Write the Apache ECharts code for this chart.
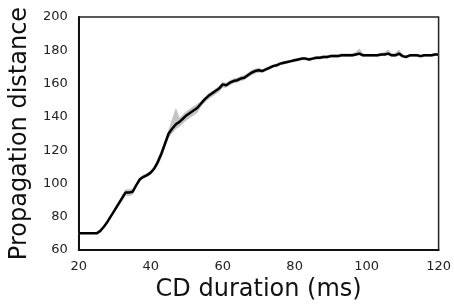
<!DOCTYPE html>
<html>
<head>
<meta charset="utf-8">
<script src="https://cdn.jsdelivr.net/npm/echarts@6/dist/echarts.min.js"></script>
<style>
  html, body { margin: 0; padding: 0; background: #fff; }
  #chart { width: 454px; height: 308px; }
</style>
</head>
<body>
<div id="chart"></div>
<script>
// CD duration (ms), one point per ms
const durations = [];
for (let d = 20; d <= 120; d++) durations.push(String(d));

// mean propagation distance
const meanDistance = [
  70, 70, 70, 70, 70, 70, 71.5, 74, 77, 80.5,          // 20-29
  84, 87.5, 91, 94.5, 94.5, 95, 99, 102.5, 104, 105,    // 30-39
  106.5, 109, 113, 118, 124, 130, 133, 135.5, 137, 139, // 40-49
  141, 142.5, 144, 145.5, 148, 150.5, 152.5, 154, 155.5, 157, // 50-59
  159.5, 159, 160.5, 161.5, 162, 163, 163.5, 165, 166.5, 167.5, // 60-69
  168, 167.5, 168.5, 169.5, 170.5, 171, 172, 172.5, 173, 173.5, // 70-79
  174, 174.5, 175, 175, 174.5, 175, 175.5, 175.5, 176, 176,     // 80-89
  176.5, 176.5, 176.5, 177, 177, 177, 177, 177.5, 178, 177,     // 90-99
  177, 177, 177, 177, 177.5, 177.5, 178, 177, 177, 178,         // 100-109
  176.5, 176, 177, 177, 177, 176.5, 177, 177, 177, 177.5,       // 110-119
  177.5                                                          // 120
];

// spread above / below the mean (grey band)
const spreadUp = [
  0.5, 0.5, 0.5, 0.5, 0.5, 0.5, 0.8, 0.8, 0.8, 0.8,
  0.8, 0.8, 2, 2, 2, 2, 1.2, 1.2, 1.2, 1.2,
  1.2, 1.2, 2.5, 2.5, 2.5, 2.5, 6, 10, 2.5, 2.5,
  2.5, 2.5, 2.5, 2.5, 1.5, 1.5, 1.5, 1.5, 1.5, 1.5,
  1.5, 1.5, 1.5, 1.5, 1.5, 1.5, 1.5, 1.5, 1.5, 1.5,
  1.5, 1, 1, 1, 1, 1, 1, 1, 1, 1,
  1, 1, 1, 1, 1, 1, 1, 1, 1, 1,
  1, 1, 1, 1, 1, 1, 1, 1.5, 3, 1,
  0.8, 0.8, 0.8, 0.8, 0.8, 1.5, 2.5, 1, 1.5, 2.5,
  1, 0.8, 0.8, 0.8, 0.8, 0.8, 0.8, 0.8, 0.8, 0.8,
  0.8
];
const spreadDown = [
  0.5, 0.5, 0.5, 0.5, 0.5, 0.5, 0.8, 0.8, 0.8, 0.8,
  0.8, 0.8, 2, 2, 2, 2, 1.2, 1.2, 1.2, 1.2,
  1.2, 1.2, 2.5, 2.5, 2.5, 2.5, 3, 3, 3, 3,
  3, 3, 3, 3, 2, 2, 2, 2, 2, 2,
  2, 1.5, 1.5, 1.5, 1.5, 1.5, 1.5, 1.5, 1.5, 1.5,
  1.5, 1, 1, 1, 1, 1, 1, 1, 1, 1,
  1, 1, 1, 1, 1, 1, 1, 1, 1, 1,
  1, 1, 1, 1, 1, 1, 1, 1, 1, 1,
  1, 1, 1, 1, 1, 1, 1, 1, 1, 1,
  1, 1, 1, 1, 1, 1, 1, 1, 1, 1,
  1
];

const yTicks = [60, 80, 100, 120, 140, 160, 180, 200];

// band built as stacked areas: invisible lower edge + width
const bandLower = meanDistance.map((m, i) => m - spreadDown[i]);
const bandWidth = meanDistance.map((m, i) => spreadUp[i] + spreadDown[i]);

const chart = echarts.init(document.getElementById("chart"));
const font = "DejaVu Sans";

chart.setOption({
  animation: false,
  grid: {
    left: 68, right: 15, top: 17, bottom: 58,
    show: true, borderColor: "#222", borderWidth: 1.5
  },
  xAxis: {
    type: "category",
    data: durations,
    boundaryGap: false,
    name: "CD duration (ms)",
    nameLocation: "middle", nameGap: 28,
    nameTextStyle: { fontFamily: font, fontSize: 24, color: "#111" },
    axisLine: { show: true, lineStyle: { color: "#111", width: 2 } },
    axisTick: { show: false },
    splitLine: { show: false },
    axisLabel: { interval: 19, fontFamily: font, fontSize: 13, color: "#222", margin: 10 }
  },
  yAxis: {
    type: "value",
    min: yTicks[0], max: yTicks[yTicks.length - 1], interval: 20,
    name: "Propagation distance",
    nameLocation: "middle", nameGap: 41,
    nameTextStyle: { fontFamily: font, fontSize: 24, color: "#111" },
    axisLine: { show: true, lineStyle: { color: "#111", width: 2 } },
    axisTick: { show: false },
    splitLine: { show: false },
    axisLabel: { fontFamily: font, fontSize: 13, color: "#222", margin: 11 }
  },
  series: [
    {
      type: "line", data: bandLower, stack: "band", symbol: "none",
      lineStyle: { opacity: 0 }, silent: true
    },
    {
      type: "line", data: bandWidth, stack: "band", symbol: "none",
      lineStyle: { opacity: 0 }, areaStyle: { color: "#c4c4c4", opacity: 1 },
      silent: true
    },
    {
      type: "line", data: meanDistance, symbol: "none",
      lineStyle: { color: "#000", width: 2.5 }
    }
  ]
});
</script>
</body>
</html>
